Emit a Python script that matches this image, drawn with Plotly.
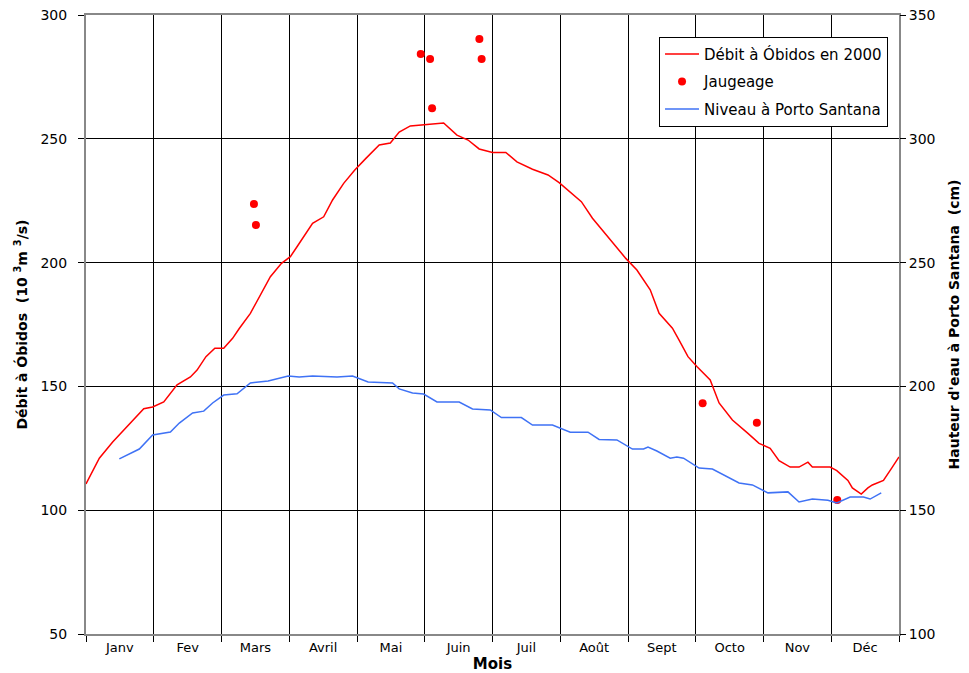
import plotly.graph_objects as go

# Débit à Óbidos en 2000 (10^3 m^3/s) vs day of year
debit_jour = [0, 6, 12, 21, 26, 30, 35, 41, 47, 50, 54, 58, 62, 66, 69, 74, 79, 83, 88, 92, 95, 99,
              102, 107, 111, 116, 121, 126, 132, 137, 141, 146, 152, 156, 161, 167, 172, 177, 183,
              189, 194, 201, 208, 213, 217, 223, 228, 237, 243, 248, 254, 258, 264, 267, 271, 275,
              281, 285, 291, 298, 303, 308, 312, 317, 321, 325, 327, 335, 338, 343, 345, 349, 352,
              354, 359, 363, 366]
debit_val = [110.6, 121.0, 127.5, 136.0, 141.0, 141.7, 143.7, 150.6, 153.8, 156.6, 162.0, 165.4,
             165.4, 169.4, 173.4, 179.5, 187.6, 194.3, 199.7, 202.4, 206.4, 211.8, 215.9, 218.5,
             225.3, 232.0, 237.4, 242.1, 247.5, 248.3, 252.7, 255.2, 255.6, 256.0, 256.4, 251.5,
             249.5, 245.9, 244.5, 244.5, 240.7, 237.7, 235.4, 232.3, 229.3, 224.6, 217.9, 208.4,
             201.7, 197.0, 189.0, 179.5, 173.5, 168.7, 162.0, 158.0, 152.6, 143.3, 136.4, 131.0,
             127.0, 125.0, 120.0, 117.4, 117.4, 119.4, 117.4, 117.4, 116.0, 112.0, 109.0, 106.5,
             109.0, 110.2, 112.0, 117.4, 121.5]

# Jaugeage (10^3 m^3/s)
jaug_jour = [75.6, 76.5, 150.7, 154.9, 155.8, 177.1, 178.1, 277.6, 302.0, 338.2]
jaug_val = [223.7, 215.2, 284.2, 282.2, 262.3, 290.3, 282.2, 143.2, 135.3, 104.1]

# Niveau à Porto Santana (cm)
niveau_jour = [15, 20, 24, 30, 38, 42, 48, 53, 57, 62, 68, 74, 82, 91, 96, 102, 113, 120, 127,
               138, 141, 147, 152, 158, 168, 174, 182, 187, 196, 201, 210, 218, 226, 231, 239,
               246, 251, 253, 257, 263, 266, 269, 276, 282, 289, 294, 300, 307, 316, 321, 327,
               334, 338, 344, 350, 353, 358]
niveau_val = [170.7, 173.1, 174.7, 180.4, 181.6, 185.2, 189.3, 190.0, 193.3, 196.5, 197.0, 201.4,
              202.2, 204.2, 203.8, 204.2, 203.8, 204.2, 201.8, 201.4, 199.0, 197.3, 196.9, 193.7,
              193.7, 190.9, 190.5, 187.4, 187.4, 184.4, 184.4, 181.5, 181.5, 178.6, 178.4, 174.7,
              174.7, 175.5, 173.9, 171.0, 171.5, 171.0, 167.0, 166.6, 163.4, 161.0, 160.2, 157.0,
              157.4, 153.3, 154.5, 154.0, 152.9, 155.3, 155.3, 154.5, 157.0]

mois = ["Janv", "Fev", "Mars", "Avril", "Mai", "Juin", "Juil", "Août", "Sept", "Octo", "Nov", "Déc"]
mois_len = 366 / 12
mois_centres = [(i + 0.5) * mois_len for i in range(12)]

FONT = "DejaVu Sans, Arial, sans-serif"

fig = go.Figure()
fig.add_trace(go.Scatter(x=debit_jour, y=debit_val, mode="lines", name="Débit à Óbidos en 2000",
                         legendgroup="a", line=dict(color="#FF0000", width=1.5), yaxis="y"))
fig.add_trace(go.Scatter(x=jaug_jour, y=jaug_val, mode="markers", name="Jaugeage",
                         legendgroup="b", marker=dict(color="#FF0000", size=8), yaxis="y"))
fig.add_trace(go.Scatter(x=niveau_jour, y=niveau_val, mode="lines", name="Niveau à Porto Santana",
                         legendgroup="c", line=dict(color="#3F72F5", width=1.5), yaxis="y2"))

fig.update_layout(
    width=961, height=665,
    margin=dict(l=78, r=70, t=7, b=39, autoexpand=False),
    paper_bgcolor="white", plot_bgcolor="white",
    font=dict(family=FONT, size=13, color="black"),
    showlegend=True,
    legend=dict(x=0.9865, y=0.965, xanchor="right", yanchor="top",
                bgcolor="white", bordercolor="black", borderwidth=1,
                font=dict(family=FONT, size=15, color="black"),
                tracegroupgap=5, itemwidth=34),
    xaxis=dict(
        range=[0, 366], tickvals=mois_centres, ticktext=mois, ticks="", showgrid=False,
        tickfont=dict(size=13), zeroline=False, automargin=False, ticklabeloverflow="allow",
        showline=True, linecolor="#888888", linewidth=2, mirror=True,
        minor=dict(tick0=0, dtick=mois_len, showgrid=True, gridcolor="black", gridwidth=1,
                   ticks="outside", ticklen=6, tickcolor="black"),
        title=dict(text="<b>Mois</b>", font=dict(size=15), standoff=9),
    ),
    yaxis=dict(
        range=[50, 300], dtick=50, showgrid=True, gridcolor="black", gridwidth=1,
        ticks="outside", ticklen=6, tickcolor="black", zeroline=False, automargin=False,
        ticklabeloverflow="allow",
        showline=True, linecolor="#888888", linewidth=2, mirror=True,
        tickfont=dict(size=14), ticklabelstandoff=8,
        title=dict(text="<b>Débit à Óbidos  (10 <sup>3</sup>m <sup>3</sup>/s)</b>", font=dict(size=14), standoff=10),
    ),
    yaxis2=dict(
        range=[100, 350], dtick=50, overlaying="y", side="right", showgrid=False,
        ticks="outside", ticklen=6, tickcolor="black", zeroline=False, automargin=False,
        ticklabeloverflow="allow",
        tickfont=dict(size=14),
        title=dict(text="<b>Hauteur d'eau à Porto Santana  (cm)</b>", font=dict(size=14), standoff=14),
    ),
)

fig.write_html("out.html")
